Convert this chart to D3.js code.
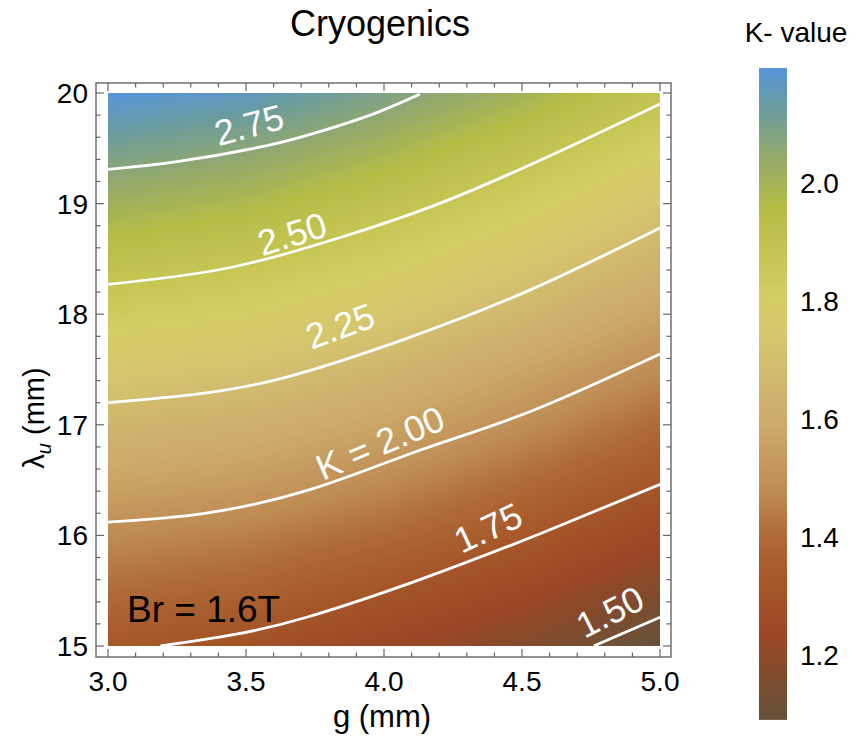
<!DOCTYPE html>
<html>
<head>
<meta charset="utf-8">
<script src="https://cdn.jsdelivr.net/npm/d3@7"></script>
<style>
  body { margin: 0; background: #fff; }
  text { font-family: "Liberation Sans", Arial, sans-serif; }
</style>
</head>
<body>
<div id="chart"></div>
<script>
// grid of K values (rows: lambda, cols: g)
var gVals = [3.0, 3.5, 4.0, 4.5, 5.0];
var lamVals = [15, 15.5, 16, 16.5, 17, 17.5, 18, 18.5, 19, 19.5, 20];
var kGrid = [
  [1.77, 1.72, 1.64, 1.56, 1.45],
  [1.87, 1.83, 1.75, 1.66, 1.55],
  [1.97, 1.93, 1.86, 1.77, 1.65],
  [2.09, 2.05, 1.97, 1.87, 1.76],
  [2.20, 2.16, 2.09, 1.98, 1.86],
  [2.32, 2.28, 2.20, 2.09, 1.97],
  [2.44, 2.40, 2.32, 2.21, 2.08],
  [2.56, 2.51, 2.43, 2.32, 2.19],
  [2.68, 2.63, 2.54, 2.43, 2.30],
  [2.80, 2.75, 2.66, 2.54, 2.41],
  [2.92, 2.88, 2.78, 2.67, 2.52]
];

// contour lines, [g, lambda]
var contourLevels = [2.75, 2.50, 2.25, 2.00, 1.75, 1.50];
var contourLines = [
  [[3.0, 19.31], [3.25, 19.38], [3.55, 19.51], [3.74, 19.63], [3.95, 19.80], [4.13, 19.99]],
  [[3.0, 18.27], [3.44, 18.42], [3.85, 18.70], [4.2, 19.0], [4.6, 19.43], [5.0, 19.9]],
  [[3.0, 17.2], [3.3, 17.27], [3.63, 17.42], [4.07, 17.77], [4.53, 18.22], [5.0, 18.78]],
  [[3.0, 16.12], [3.35, 16.2], [3.74, 16.42], [4.13, 16.77], [4.53, 17.12], [5.0, 17.64]],
  [[3.19, 15.0], [3.45, 15.1], [3.72, 15.26], [4.13, 15.6], [4.57, 16.02], [5.0, 16.46]],
  [[4.76, 15.0], [5.0, 15.26]]
];
var contourLabels = ["2.75", "2.50", "2.25", "K = 2.00", "1.75", "1.50"];
var labelPos = [[3.511, 19.71], [3.667, 18.725], [3.841, 17.893], [3.986, 16.835], [4.377, 16.067], [4.819, 15.307]];
var labelAngle = [-15, -17, -20, -23, -25, -27];

// colour bar
var barStops = [1.09, 1.17, 1.23, 1.34, 1.40, 1.48, 1.59, 1.65, 1.73, 1.81, 1.87, 1.96, 2.04, 2.13, 2.195];
var barColors = ["#64523a", "#824b2d", "#9b4626", "#a85a2a", "#af6937", "#be8c55", "#cdaa69", "#cfb46e",
                 "#d5c56e", "#d4cd64", "#c8c655", "#b4bc46", "#96aa69", "#699ba0", "#5895dc"];
var barTicks = [1.2, 1.4, 1.6, 1.8, 2.0];

var xMajor = [3.0, 3.5, 4.0, 4.5, 5.0];
var yMajor = [15, 16, 17, 18, 19, 20];
var xMinor = d3.range(30, 51).map(function(d) { return d / 10; });
var yMinor = d3.range(75, 101).map(function(d) { return d / 5; });

var W = 865, H = 743;
var frame = {l: 96, r: 671, t: 83, b: 657};
var x = d3.scaleLinear().domain([3, 5]).range([108, 660]);
var y = d3.scaleLinear().domain([15, 20]).range([646, 93]);
var barY = d3.scaleLinear().domain([2.0, 1.2]).range([183, 655]);
var kToBar = d3.scaleLinear().domain([1.45, 2.92]).range([1.09, 2.195]);
var color = d3.scaleLinear().domain(barStops).range(barColors).interpolate(d3.interpolateRgb).clamp(true);

var svg = d3.select("#chart").append("svg").attr("width", W).attr("height", H);

// --- heat map raster ---
function kAt(g, lam) {
  var fi = (g - 3) / 0.5, fj = (lam - 15) / 0.5;
  var i0 = Math.max(0, Math.min(gVals.length - 2, Math.floor(fi)));
  var j0 = Math.max(0, Math.min(lamVals.length - 2, Math.floor(fj)));
  var tx = fi - i0, ty = fj - j0;
  var a = kGrid[j0][i0], b = kGrid[j0][i0 + 1], c = kGrid[j0 + 1][i0], d = kGrid[j0 + 1][i0 + 1];
  return (a * (1 - tx) + b * tx) * (1 - ty) + (c * (1 - tx) + d * tx) * ty;
}
var px0 = Math.round(x(3)), px1 = Math.round(x(5)), py0 = Math.round(y(20)), py1 = Math.round(y(15));
var cw = px1 - px0, ch = py1 - py0;
var canvas = document.createElement("canvas");
canvas.width = cw; canvas.height = ch;
var ctx = canvas.getContext("2d");
var img = ctx.createImageData(cw, ch);
for (var j = 0; j < ch; j++) {
  var lam = y.invert(py0 + j + 0.5);
  for (var i = 0; i < cw; i++) {
    var g = x.invert(px0 + i + 0.5);
    var c = d3.rgb(color(kToBar(kAt(g, lam))));
    var k = (j * cw + i) * 4;
    img.data[k] = c.r; img.data[k + 1] = c.g; img.data[k + 2] = c.b; img.data[k + 3] = 255;
  }
}
ctx.putImageData(img, 0, 0);
svg.append("image")
  .attr("x", px0).attr("y", py0).attr("width", cw).attr("height", ch)
  .attr("preserveAspectRatio", "none")
  .attr("href", canvas.toDataURL());

// --- contours ---
svg.append("clipPath").attr("id", "clip").append("rect")
  .attr("x", px0).attr("y", py0).attr("width", cw).attr("height", ch);

var line = d3.line()
  .x(function(d) { return x(d[0]); })
  .y(function(d) { return y(d[1]); })
  .curve(d3.curveNatural);

svg.append("g").attr("clip-path", "url(#clip)")
  .selectAll("path").data(contourLines).enter().append("path")
  .attr("d", line)
  .attr("fill", "none")
  .attr("stroke", "#fff")
  .attr("stroke-width", 2.8);

svg.append("g").selectAll("text").data(contourLabels).enter().append("text")
  .attr("transform", function(d, i) {
    return "translate(" + x(labelPos[i][0]) + "," + y(labelPos[i][1]) + ") rotate(" + labelAngle[i] + ")";
  })
  .attr("text-anchor", "middle")
  .attr("dominant-baseline", "central")
  .attr("fill", "#fff")
  .style("font-size", "36px")
  .text(function(d) { return d; });

svg.append("text")
  .attr("x", 127).attr("y", 622)
  .style("font-size", "37px")
  .attr("fill", "#000")
  .text("Br = 1.6T");

// --- frame and ticks ---
var frameColor = "#666";
svg.append("rect")
  .attr("x", frame.l).attr("y", frame.t)
  .attr("width", frame.r - frame.l).attr("height", frame.b - frame.t)
  .attr("fill", "none").attr("stroke", frameColor).attr("stroke-width", 1.4);

var ticks = svg.append("g").attr("stroke", frameColor).attr("stroke-width", 1.2);
function isMajor(v, list) { return list.some(function(m) { return Math.abs(m - v) < 1e-6; }); }
xMinor.forEach(function(v) {
  var len = isMajor(v, xMajor) ? 8 : 4.5;
  ticks.append("line").attr("x1", x(v)).attr("x2", x(v)).attr("y1", frame.b).attr("y2", frame.b - len);
  ticks.append("line").attr("x1", x(v)).attr("x2", x(v)).attr("y1", frame.t).attr("y2", frame.t + len);
});
yMinor.forEach(function(v) {
  var len = isMajor(v, yMajor) ? 8 : 4.5;
  ticks.append("line").attr("y1", y(v)).attr("y2", y(v)).attr("x1", frame.l).attr("x2", frame.l + len);
  ticks.append("line").attr("y1", y(v)).attr("y2", y(v)).attr("x1", frame.r).attr("x2", frame.r - len);
});

svg.append("g").selectAll("text").data(xMajor).enter().append("text")
  .attr("x", function(d) { return x(d); })
  .attr("y", 691)
  .attr("text-anchor", "middle")
  .style("font-size", "28px")
  .text(function(d) { return d.toFixed(1); });

svg.append("g").selectAll("text").data(yMajor).enter().append("text")
  .attr("x", 88)
  .attr("y", function(d) { return y(d) + 10; })
  .attr("text-anchor", "end")
  .style("font-size", "28px")
  .text(function(d) { return d; });

// --- titles ---
svg.append("text").attr("x", 380).attr("y", 36).attr("text-anchor", "middle")
  .style("font-size", "36px").text("Cryogenics");

svg.append("text").attr("x", 382).attr("y", 727).attr("text-anchor", "middle")
  .style("font-size", "31px").text("g (mm)");

var yl = svg.append("text")
  .attr("transform", "translate(44,418) rotate(-90)")
  .attr("text-anchor", "middle")
  .style("font-size", "29px");
yl.append("tspan").text("\u03bb");
yl.append("tspan").attr("dy", 7).style("font-size", "20px").style("font-style", "italic").text("u");
yl.append("tspan").attr("dy", -7).text(" (mm)");

// --- colour bar ---
var grad = svg.append("defs").append("linearGradient").attr("id", "bar")
  .attr("x1", 0).attr("y1", 1).attr("x2", 0).attr("y2", 0);
barStops.forEach(function(v, i) {
  grad.append("stop")
    .attr("offset", (v - barStops[0]) / (barStops[barStops.length - 1] - barStops[0]))
    .attr("stop-color", barColors[i]);
});
var barTop = barY(barStops[barStops.length - 1]), barBot = barY(barStops[0]);
svg.append("rect").attr("x", 759).attr("y", barTop).attr("width", 28).attr("height", barBot - barTop)
  .attr("fill", "url(#bar)");

svg.append("g").selectAll("text").data(barTicks).enter().append("text")
  .attr("x", 800)
  .attr("y", function(d) { return barY(d) + 10; })
  .style("font-size", "28px")
  .text(function(d) { return d.toFixed(1); });

svg.append("text").attr("x", 796).attr("y", 42).attr("text-anchor", "middle")
  .style("font-size", "28px").text("K- value");
</script>
</body>
</html>
